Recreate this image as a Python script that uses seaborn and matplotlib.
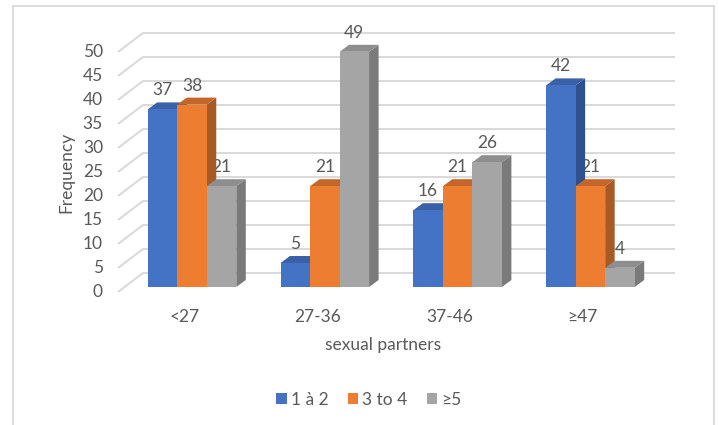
import matplotlib
matplotlib.use("Agg")
import matplotlib.pyplot as plt
import pandas as pd
import seaborn as sns
from matplotlib.patches import Polygon, Rectangle

# ---- data -------------------------------------------------------------
age_groups = ["<27", "27-36", "37-46", "≥47"]
partner_groups = ["1 à 2", "3 to 4", "≥5"]
freq_1_2 = [37, 5, 16, 42]
freq_3_4 = [38, 21, 21, 21]
freq_5_plus = [21, 49, 26, 4]
y_ticks = [0, 5, 10, 15, 20, 25, 30, 35, 40, 45, 50]

# ---- styling ----------------------------------------------------------
front_colors = ["#4472C4", "#ED7D31", "#A5A5A5"]
side_colors = ["#2F528F", "#A65A25", "#7A7A7A"]
top_colors = ["#3A60A8", "#C4662A", "#8E8E8E"]
text_color = "#595959"
grid_color = "#D9D9D9"

sns.set_theme(style="white")
plt.rcParams["font.family"] = ["Lato", "DejaVu Sans"]
FS = 12.5

W, H = 719, 425
fig = plt.figure(figsize=(W / 100, H / 100), dpi=100)
ax = fig.add_axes([0, 0, 1, 1])

# pixel layout -> data coordinates of the bar plane
PX0, PX_STEP = 192.0, 132.8   # centre of first group, distance between groups
PY0, PY_UNIT = 287.0, 4.8     # baseline, pixels per unit


def px2x(px):
    return (px - PX0) / PX_STEP


def py2y(py):
    return (PY0 - py) / PY_UNIT


df = pd.DataFrame({
    "age": age_groups * 3,
    "partners": sum([[p] * len(age_groups) for p in partner_groups], []),
    "freq": freq_1_2 + freq_3_4 + freq_5_plus,
})

sns.barplot(data=df, x="age", y="freq", hue="partners", order=age_groups,
            hue_order=partner_groups, palette=front_colors, saturation=1,
            width=0.667, gap=0, linewidth=0, legend=False, ax=ax)

ax.set_xlim(px2x(0), px2x(W))
ax.set_ylim(py2y(H), py2y(0))
ax.set_axis_off()

# depth offset of the pseudo-3D bars
DX = 9.5 / PX_STEP
DY = 7.0 / PY_UNIT

# back wall gridlines with diagonal floor/wall connectors
back_dy = py2y(273)          # back plane baseline
front_dy = py2y(292)         # front plane baseline
x_front, x_back, x_end = px2x(118), px2x(143), px2x(675)
for t in y_ticks:
    ax.plot([x_front, x_back, x_end], [t + front_dy, t + back_dy, t + back_dy],
            color=grid_color, lw=1.4, zorder=1, solid_capstyle="butt")
    ax.text(px2x(103), t + front_dy, str(t), ha="right", va="center",
            fontsize=FS, color=text_color)

# side and top faces, value labels
bars = []
for j, cont in enumerate(ax.containers):
    for rect, val in zip(cont.patches, cont.datavalues):
        bars.append((rect, val, j))
bars.sort(key=lambda b: b[0].get_x())

for k, (rect, val, j) in enumerate(bars):
    x, w, h = rect.get_x(), rect.get_width(), rect.get_height()
    base_z = 3 + 3 * k
    side = Polygon([(x + w, 0), (x + w, h), (x + w + DX, h + DY), (x + w + DX, DY)],
                   closed=True, facecolor=side_colors[j], edgecolor="none",
                   zorder=base_z)
    top = Polygon([(x, h), (x + w, h), (x + w + DX, h + DY), (x + DX, h + DY)],
                  closed=True, facecolor=top_colors[j], edgecolor="none",
                  zorder=base_z + 1)
    ax.add_patch(side)
    ax.add_patch(top)
    rect.set_zorder(base_z + 2)
    ax.text(x + w / 2, val + 19 / PY_UNIT, f"{val:g}", ha="center", va="center",
            fontsize=FS, color=text_color, zorder=2)

# category labels
for i, cat in enumerate(age_groups):
    ax.text(i - 7.5 / PX_STEP, py2y(317), cat, ha="center", va="center",
            fontsize=FS, color=text_color)

# axis titles
ax.text(px2x(383), py2y(345), "sexual partners", ha="center", va="center",
        fontsize=FS, color=text_color)
ax.text(px2x(66), py2y(172), "Frequency", ha="center", va="center",
        rotation=90, fontsize=FS, color=text_color)

# legend
handles = [Rectangle((0, 0), 1, 1, facecolor=c, edgecolor="none") for c in front_colors]
ax.legend(handles, partner_groups, loc="center", bbox_to_anchor=(369 / W, 1 - 400 / H),
          ncol=3, frameon=False, fontsize=FS, labelcolor=text_color,
          handlelength=0.6, handleheight=0.6, handletextpad=0.25, columnspacing=1.1)

# chart frame
fig.add_artist(Rectangle((13 / W, -0.1), (714 - 13) / W, (H - 6) / H + 0.1,
                         transform=fig.transFigure, fill=False,
                         edgecolor=grid_color, lw=1.3))

fig.savefig("out.png", dpi=100)
